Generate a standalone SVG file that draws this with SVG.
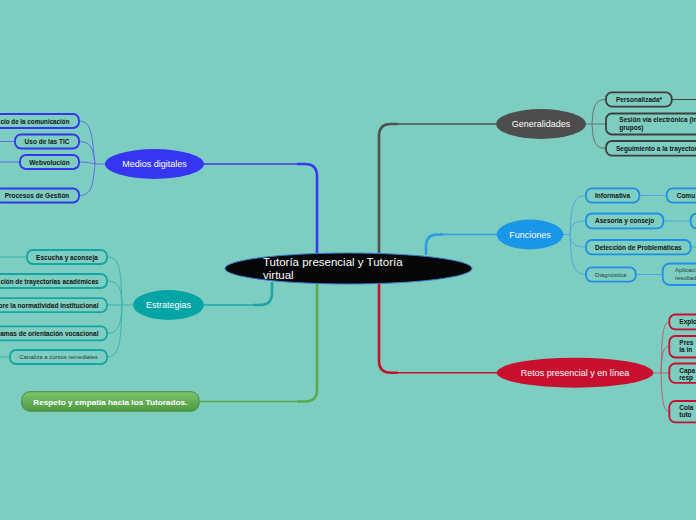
<svg xmlns="http://www.w3.org/2000/svg" width="696" height="520" viewBox="0 0 696 520">
<defs>
<linearGradient id="gGreen" x1="0" y1="0" x2="0" y2="1">
<stop offset="0" stop-color="#7cc46c"/>
<stop offset="1" stop-color="#4c9a40"/>
</linearGradient>
<style>
.bx{fill:#7DCDC1;stroke-width:1.8}
.t{font-family:"Liberation Sans",Arial,sans-serif;font-size:6.5px;font-weight:bold;fill:#141414}
.ts{font-family:"Liberation Sans",Arial,sans-serif;font-size:6px;fill:#1f3f44}
.tn{font-family:"Liberation Sans",Arial,sans-serif;font-size:9px;fill:#ffffff;text-anchor:middle}
.c{fill:none;stroke-width:1}
.trunk{fill:none;stroke-width:2.6;stroke-linecap:round}
.arm{fill:none;stroke-width:1.5}
.blue{stroke:#3535ee}
.teal{stroke:#15a6a4}
.gray{stroke:#3f3f3f}
.fb{stroke:#1e8fe6}
.red{stroke:#c8102e}
</style>
</defs>
<rect width="696" height="520" fill="#7DCDC1"/>

<g id="connectors">
<path class="arm" stroke="#3a3aee" d="M204,164 H300"/>
<path class="trunk" stroke="#3a3aee" d="M298,164 H305 Q317,164 317,176 V253"/>
<path class="arm" stroke="#18a8a6" d="M204,305 H255"/>
<path class="trunk" stroke="#18a8a6" d="M254,305 H260 Q272,305 272,293 V283"/>
<path class="arm" stroke="#5aaa4c" d="M199,401.5 H300"/>
<path class="trunk" stroke="#5aaa4c" d="M298,401.5 H305 Q317,401.5 317,389.5 V284"/>
<path class="arm" stroke="#505050" d="M496,124 H395"/>
<path class="trunk" stroke="#505050" d="M397,124 H391 Q379,124 379,136 V253"/>
<path class="arm" stroke="#2a9be6" d="M497,234.5 H440"/>
<path class="trunk" stroke="#2a9be6" d="M442,234.5 H438 Q426,234.5 426,246.5 V254"/>
<path class="arm" stroke="#c4122e" d="M497,372.7 H395"/>
<path class="trunk" stroke="#c4122e" d="M397,372.7 H391 Q379,372.7 379,360.7 V284"/>

<g stroke="#5b6cf0" class="c">
<path d="M105,164 H95"/>
<path d="M95,164 C92,140 93,121 79,121"/>
<path d="M95,164 C93,150 92,141.5 79,141.5"/>
<path d="M95,164 C90,163 88,162 79,162"/>
<path d="M95,164 C93,185 92,195.5 79,195.5"/>
<path d="M0,141.5 H15"/>
<path d="M0,162 H20"/>
</g>
<g stroke="#3bb5b0" class="c">
<path d="M133,305 H122"/>
<path d="M122,305 C121,270 120,257 107,257"/>
<path d="M122,305 C121,290 120,281 107,281"/>
<path d="M122,305 H107"/>
<path d="M122,305 C121,322 120,333.3 107,333.3"/>
<path d="M122,305 C121,340 120,357 107,357"/>
<path d="M0,257 H27"/>
<path d="M0,357 H10"/>
</g>
<g stroke="#6e6e6e" class="c">
<path d="M586,124 H592"/>
<path d="M592,124 C593,108 594,99.5 606,99.5"/>
<path d="M592,124 H606"/>
<path d="M592,124 C593,140 594,148.3 606,148.3"/>
<path d="M672,99.5 H696" stroke="#404040"/>
</g>
<g stroke="#4aa8e8" class="c">
<path d="M563,234.5 H570"/>
<path d="M570,234.5 C571,210 572,195.5 586,195.5"/>
<path d="M570,234.5 C571,226 572,221 586,221"/>
<path d="M570,234.5 C571,242 572,247 586,247"/>
<path d="M570,234.5 C571,260 572,274.5 586,274.5"/>
<path d="M639.3,195.5 H666.7"/>
<path d="M663.3,221 H690.7"/>
<path d="M690.7,247 H696"/>
<path d="M635.7,274.5 H662.7"/>
</g>
<g stroke="#b56673" class="c">
<path d="M653,373 H661"/>
<path d="M661,373 C662,340 662,322 669.3,322"/>
<path d="M661,373 C662,358 662,346.5 669.3,346.5"/>
<path d="M661,373 H669.3"/>
<path d="M661,373 C662,395 662,411.5 669.3,411.5"/>
</g>
</g>

<g id="central">
<ellipse cx="348.5" cy="268.5" rx="123.5" ry="15.5" fill="#060606" stroke="#3a7bd5" stroke-width="1"/>
<text x="263" y="266" font-family="'Liberation Sans',Arial,sans-serif" font-size="11.5" fill="#ffffff">Tutoría presencial y Tutoría</text>
<text x="263" y="278.5" font-family="'Liberation Sans',Arial,sans-serif" font-size="11.5" fill="#ffffff">virtual</text>
</g>

<g id="medios-digitales">
<ellipse cx="154.5" cy="164" rx="49.5" ry="15" fill="#3636f2"/>
<text class="tn" x="154.5" y="167.2">Medios digitales</text>
</g>
<g id="md-comunicacion"><rect class="bx blue" x="-10" y="114" width="89" height="14" rx="6"/><text class="t" x="0.5" y="123.6" textLength="69" lengthAdjust="spacingAndGlyphs">cio de la comunicación</text></g>
<g id="md-tic"><rect class="bx blue" x="15" y="134.5" width="64" height="14" rx="6"/><text class="t" x="47" y="144" text-anchor="middle">Uso de las TIC</text></g>
<g id="md-webvolucion"><rect class="bx blue" x="20" y="155" width="59" height="14" rx="6"/><text class="t" x="49.5" y="164.5" text-anchor="middle">Webvolución</text></g>
<g id="md-gestion"><rect class="bx blue" x="-5" y="188.5" width="84" height="14" rx="6"/><text class="t" x="37" y="198" text-anchor="middle">Procesos de Gestión</text></g>

<g id="estrategias">
<ellipse cx="168.5" cy="305" rx="35.5" ry="15" fill="#05a5a5"/>
<text class="tn" x="168.5" y="308.2">Estrategias</text>
</g>
<g id="es-escucha"><rect class="bx teal" x="27" y="250" width="80" height="14" rx="6"/><text class="t" x="67" y="259.5" text-anchor="middle">Escucha y aconseja</text></g>
<g id="es-trayectorias"><rect class="bx teal" x="-10" y="274" width="117" height="14" rx="6"/><text class="t" x="0.5" y="283.5" textLength="98" lengthAdjust="spacingAndGlyphs">ción de trayectorias académicas</text></g>
<g id="es-normatividad"><rect class="bx teal" x="-10" y="298.2" width="117" height="14" rx="6"/><text class="t" x="98.5" y="307.7" text-anchor="end">ore la normatividad institucional</text></g>
<g id="es-vocacional"><rect class="bx teal" x="-10" y="326.3" width="117" height="14" rx="6"/><text class="t" x="98.5" y="335.8" text-anchor="end">amas de orientación vocacional</text></g>
<g id="es-remediales"><rect class="bx teal" x="10" y="350" width="97" height="14" rx="6"/><text class="ts" x="58.5" y="359.2" text-anchor="middle">Canaliza a cursos remediales</text></g>

<g id="respeto">
<rect x="21.7" y="391.7" width="177.3" height="19.5" rx="8" fill="url(#gGreen)" stroke="#4a8f3c" stroke-width="1"/>
<text x="33.3" y="404.6" textLength="154" lengthAdjust="spacingAndGlyphs" font-family="'Liberation Sans',Arial,sans-serif" font-size="7.5" font-weight="bold" fill="#ffffff">Respeto y empatía hacia los Tutorados.</text>
</g>

<g id="generalidades">
<ellipse cx="541" cy="124" rx="45" ry="15" fill="#4d4d4d"/>
<text class="tn" x="541" y="127.2">Generalidades</text>
</g>
<g id="ge-personalizada"><rect class="bx gray" x="606" y="92.3" width="65.7" height="14.4" rx="6"/><text class="t" x="639" y="101.9" text-anchor="middle">Personalizada*</text></g>
<g id="ge-sesion"><rect class="bx gray" x="606" y="113.5" width="100" height="21" rx="6"/><text class="t" x="619.3" y="121.8">Sesión vía electrónica (in</text><text class="t" x="619.3" y="130">grupos)</text></g>
<g id="ge-seguimiento"><rect class="bx gray" x="606" y="141" width="100" height="14.6" rx="6"/><text class="t" x="616" y="150.7">Seguimiento a la trayector</text></g>

<g id="funciones">
<ellipse cx="530" cy="234.5" rx="33.3" ry="15" fill="#1a96e8"/>
<text class="tn" x="530" y="237.7">Funciones</text>
</g>
<g id="fu-informativa"><rect class="bx fb" x="586" y="188.3" width="53.3" height="14.4" rx="6"/><text class="t" x="612.6" y="197.9" text-anchor="middle">Informativa</text></g>
<g id="fu-comu"><rect class="bx fb" x="666.7" y="188.3" width="50" height="14.4" rx="6"/><text class="t" x="676.7" y="197.9">Comu</text></g>
<g id="fu-asesoria"><rect class="bx fb" x="586" y="213.5" width="77.3" height="14.8" rx="6"/><text class="t" x="624.6" y="223.3" text-anchor="middle">Asesoría y consejo</text></g>
<g id="fu-asesoria-hijo"><rect class="bx fb" x="690.7" y="213.5" width="30" height="14.8" rx="6"/></g>
<g id="fu-deteccion"><rect class="bx fb" x="586" y="240" width="104.7" height="14.4" rx="6"/><text class="t" x="638.3" y="249.6" text-anchor="middle">Detección de Problemáticas</text></g>
<g id="fu-diagnostica"><rect class="bx fb" x="586" y="267.3" width="49.7" height="14.4" rx="6"/><text class="ts" x="610.8" y="276.6" text-anchor="middle">Diagnóstica</text></g>
<g id="fu-aplicacion"><rect class="bx fb" x="662.7" y="263.5" width="50" height="21.5" rx="7"/><text class="ts" x="675" y="272.4">Aplicaci</text><text class="ts" x="675" y="280.2">resultad</text></g>

<g id="retos">
<ellipse cx="575" cy="372.7" rx="78.3" ry="15" fill="#c8102e"/>
<text class="tn" x="575" y="375.9" font-size="8.8">Retos presencial y en línea</text>
</g>
<g id="re-explo"><rect class="bx red" x="669.3" y="314.5" width="40" height="14.8" rx="6"/><text class="t" x="679.3" y="324.2">Explo</text></g>
<g id="re-pres"><rect class="bx red" x="669.3" y="336" width="40" height="21.5" rx="6"/><text class="t" x="679.3" y="345.3">Pres</text><text class="t" x="679.3" y="352.3">la in</text></g>
<g id="re-capa"><rect class="bx red" x="669.3" y="363.5" width="40" height="19.3" rx="6"/><text class="t" x="679.3" y="372.6">Capa</text><text class="t" x="679.3" y="379.6">resp</text></g>
<g id="re-cola"><rect class="bx red" x="669.3" y="401" width="40" height="21.3" rx="6"/><text class="t" x="679.3" y="409.6">Cola</text><text class="t" x="679.3" y="416.6">tuto</text></g>
</svg>
